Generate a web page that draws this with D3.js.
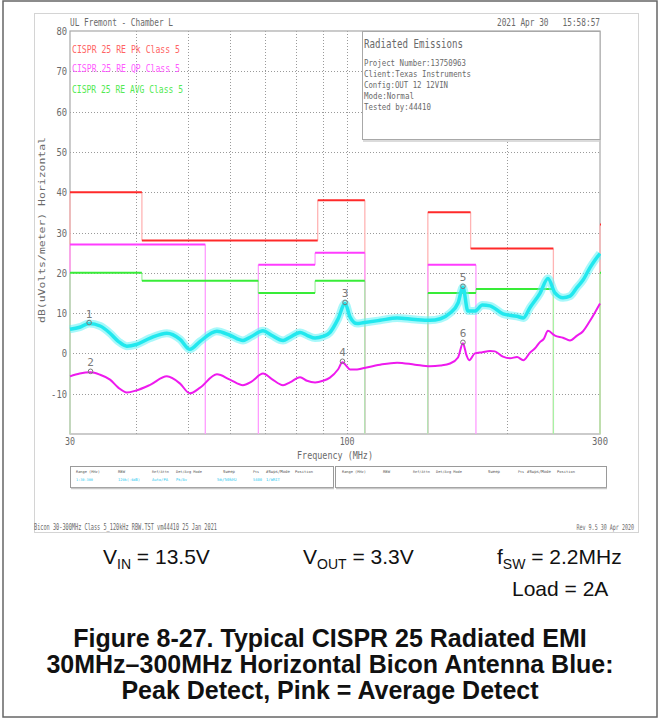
<!DOCTYPE html>
<html>
<head>
<meta charset="utf-8">
<script src="https://cdn.jsdelivr.net/npm/d3@7"></script>
<style>
  html, body { margin: 0; padding: 0; background: #fff; }
  svg { display: block; }
</style>
</head>
<body>
<svg id="chart" width="660" height="719"></svg>
<script>
// ---- axis ticks and grid ----
const yTickValues = [80, 70, 60, 50, 40, 30, 20, 10, 0, -10];
const yGridValues = [70, 60, 50, 40, 30, 20, 10, 0, -10];
const xGridFreqs = [40, 50, 60, 70, 80, 90, 100, 200];
const xTickLabels = [30, 100, 300];

// ---- peak detector trace (cyan): frequency in MHz, level in dBuV/m ----
const peakFreq = [30, 31.3, 32.6, 34.2, 35.7, 37, 38.4, 40, 42.5, 45.7, 48.4, 50.5, 52.8, 56.8,
  60.1, 63.6, 66, 69.4, 72, 75.7, 78, 81.5, 84, 87, 90, 92.8, 96.1, 99.1, 101.3, 104.4, 107.1,
  115.4, 124.2, 134.3, 143.3, 150, 156.4, 161.9, 165.4, 169, 174.2, 180, 186, 196.8, 209.2,
  215, 221.4, 231.1, 239.3, 246.7, 255.4, 263.3, 271.5, 278.7, 287.3, 293, 300];
const peakLevel = [6.0, 6.5, 7.4, 6.8, 5.0, 3.0, 1.8, 2.2, 3.8, 5.0, 3.5, 1.0, 3.0, 5.5,
  4.5, 3.2, 4.2, 5.6, 4.5, 3.2, 4.0, 5.2, 4.5, 3.8, 4.2, 5.2, 8.5, 12.4, 9.0, 7.4, 7.6,
  8.2, 8.8, 8.4, 8.2, 8.6, 10.0, 12.5, 16.4, 10.5, 10.5, 12.0, 11.8, 9.8, 9.2,
  8.8, 11.4, 14.9, 18.6, 15.0, 13.8, 14.2, 16.4, 18.2, 21.3, 23.0, 24.8];

// ---- average detector trace (magenta) ----
const avgFreq = [30, 31.3, 32.8, 34.2, 35.7, 37, 38.4, 40, 42.5, 45.7, 48.4, 50.5, 52.8, 56.8,
  60.1, 63.6, 66, 69.4, 72, 75.7, 78, 81.5, 84, 87, 90, 92.8, 96.1, 98, 99.5, 101.3, 104.4,
  107.1, 115.4, 124.2, 134.3, 143.3, 150, 156.4, 161.9, 165.4, 168, 170, 174.2, 180, 186,
  190, 196.8, 203, 209.2, 215, 221.4, 226, 231.1, 235, 239.3, 246.7, 255.4, 263.3, 271.5,
  278.7, 287.3, 300];
const avgLevel = [-5.7, -5.0, -4.7, -5.3, -6.5, -8.5, -9.7, -9.2, -7.8, -5.7, -7.5, -9.9, -8.5, -5.2,
  -6.5, -7.9, -7.0, -5.0, -6.3, -7.9, -7.2, -5.9, -6.8, -7.2, -6.8, -6.0, -4.0, -2.2, -3.0, -4.0, -4.0,
  -3.7, -2.8, -2.3, -2.8, -3.2, -3.0, -2.5, -1.0, 2.5, -0.5, -1.7, 0.0, 0.3, 0.6,
  0.5, -0.8, -1.2, -0.9, -1.7, 0.2, 1.2, 2.8, 3.6, 5.6, 4.4, 3.9, 3.2, 4.4,
  5.5, 8.1, 12.4];

// ---- CISPR 25 class 5 limit bands: [start MHz, stop MHz, dBuV/m] ----
const peakLimit = [[30, 41, 40], [41, 88, 28], [88, 108, 38], [142, 171, 35], [171, 245, 26], [300, 330, 32]];
const qpLimit = [[30, 54, 27], [68, 87, 22], [87, 108, 25], [142, 175, 22]];
const avgLimit = [[30, 41, 20], [41, 68, 18], [68, 87, 15], [87, 108, 18], [142, 175, 15], [175, 245, 16], [300, 330, 20]];

// ---- markers: [label, MHz, dBuV/m] ----
const peakMarkers = [["1", 32.6, 7.4], ["3", 99.1, 12.4], ["5", 165.4, 16.4]];
const avgMarkers = [["2", 32.8, -4.7], ["4", 98, -2.2], ["6", 165.4, 2.5]];

// ---- settings table ----
const tableHeaders = ["Range (MHz)", "RBW", "Ref/Attn", "Det/Avg Mode", "Sweep", "Pts", "#Swps/Mode", "Position"];
const tableValues = ["1:30-300", "120k(-6dB)", "Auto/PA", "Pk/Av", "5m/50kHz", "5400", "1/WRIT", ""];

const infoLines = ["Project Number:13750963", "Client:Texas Instruments", "Config:OUT 12 12VIN", "Mode:Normal", "Tested by:44410"];
const legendItems = ["CISPR 25 RE Pk Class 5", "CISPR 25 RE QP Class 5", "CISPR 25 RE AVG Class 5"];

// ------------------------------------------------------------
const svg = d3.select("#chart");
const MONO = "'DejaVu Sans Mono', monospace";
const SANS = "'Liberation Sans', Arial, sans-serif";

const x = d3.scaleLog().domain([30, 300]).range([70, 600]);
const y = d3.scaleLinear().domain([-20, 80]).range([434, 31]);

function txt(parent, s, px, py, o = {}) {
  const t = parent.append("text")
    .attr("x", px).attr("y", py)
    .attr("font-family", o.family || MONO)
    .attr("font-size", o.size || 11)
    .attr("fill", o.fill || "#6a6a6a")
    .attr("text-anchor", o.anchor || "start")
    .style("white-space", "pre")
    .text(s);
  if (o.width) t.attr("textLength", o.width).attr("lengthAdjust", "spacingAndGlyphs");
  if (o.weight) t.attr("font-weight", o.weight);
  return t;
}
// tiny table text: font size chosen so the monospace run fills the given width
function tiny(parent, s, px, py, w, fill) {
  const size = Math.min(6, w / (s.length * 0.602));
  return parent.append("text").attr("x", px).attr("y", py)
    .attr("font-family", MONO).attr("font-size", size).attr("fill", fill).text(s);
}

// outer figure frame
svg.append("rect").attr("x", 3).attr("y", 1).attr("width", 654).attr("height", 716)
  .attr("fill", "none").attr("stroke", "#666").attr("stroke-width", 1.5);
// analyzer screen frame
svg.append("rect").attr("x", 34.5).attr("y", 13.5).attr("width", 604).attr("height", 519)
  .attr("fill", "none").attr("stroke", "#d4d4d4").attr("stroke-width", 1);

// header texts
txt(svg, "UL Fremont - Chamber L", 70, 26, { width: 103 });
txt(svg, "2021 Apr 30   15:58:57", 600, 26, { width: 103, anchor: "end" });

// grid
const grid = svg.append("g").attr("stroke", "#9a9a9a").attr("stroke-width", 1).attr("stroke-dasharray", "1,2");
grid.selectAll("line.h").data(yGridValues).join("line").attr("class", "h")
  .attr("x1", x(30)).attr("x2", x(300))
  .attr("y1", d => Math.round(y(d)) + 0.5).attr("y2", d => Math.round(y(d)) + 0.5);
grid.selectAll("line.v").data(xGridFreqs).join("line").attr("class", "v")
  .attr("x1", d => Math.round(x(d)) + 0.5).attr("x2", d => Math.round(x(d)) + 0.5)
  .attr("y1", y(80)).attr("y2", y(-20));

// plot border
svg.append("rect").attr("x", x(30)).attr("y", y(80)).attr("width", x(300) - x(30)).attr("height", y(-20) - y(80))
  .attr("fill", "none").attr("stroke", "#a8a8a8").attr("stroke-width", 1.2);

// info box
svg.append("rect").attr("x", 362.5).attr("y", y(80) + 0.5).attr("width", 237.5).attr("height", 108)
  .attr("fill", "#fff").attr("stroke", "#a8a8a8").attr("stroke-width", 1);
svg.append("line").attr("x1", 363).attr("x2", 600).attr("y1", 141).attr("y2", 141)
  .attr("stroke", "#cfcfcf").attr("stroke-width", 1.5);
txt(svg, "Radiated Emissions", 364, 48, { size: 12, width: 99 });
const infoW = [102, 107, 84, 50, 67];
infoLines.forEach((s, i) => txt(svg, s, 364, 66 + i * 11, { size: 9.5, width: infoW[i] }));

// legend
const legendCol = ["#ff6464", "#ff5cff", "#52ea52"];
const legendY = [53, 72, 93];
const legendW = [108, 108, 111];
legendItems.forEach((s, i) => txt(svg, s, 72, legendY[i], { fill: legendCol[i], width: legendW[i] }));

// y tick labels
yTickValues.forEach(v => txt(svg, String(v), 67, y(v) + 4, { anchor: "end", width: String(v).length * 5.3, size: 11 }));
// y title
txt(svg, "dB(uVolts/meter) Horizontal", 0, 0, { size: 9, width: 186, anchor: "middle" })
  .attr("transform", "translate(45,230) rotate(-90)");
// x tick labels
const xLabW = { 30: 10, 100: 15, 300: 16 };
xTickLabels.forEach(f => txt(svg, String(f), x(f), 445, { anchor: "middle", width: xLabW[f], size: 11 }));
txt(svg, "Frequency (MHz)", 335, 459, { anchor: "middle", width: 76, size: 11 });

// limit lines
svg.append("clipPath").attr("id", "plotclip").append("rect")
  .attr("x", x(30) - 1).attr("y", y(80)).attr("width", x(300) - x(30) + 2).attr("height", y(-20) - y(80));
const limits = svg.append("g").attr("clip-path", "url(#plotclip)");

function drawLimit(bands, strong, light) {
  const verts = [];
  bands.forEach((b, i) => {
    const prev = bands[i - 1], next = bands[i + 1];
    if (!prev || prev[1] !== b[0]) verts.push([b[0], -20, b[2]]);
    if (next && next[0] === b[1]) verts.push([b[1], b[2], next[2]]);
    else verts.push([b[1], b[2], -20]);
  });
  limits.append("g").selectAll("line").data(verts).join("line")
    .attr("x1", d => x(d[0])).attr("x2", d => x(d[0]))
    .attr("y1", d => y(d[1])).attr("y2", d => y(d[2]))
    .attr("stroke", light).attr("stroke-width", 1.3);
  limits.append("g").selectAll("line").data(bands).join("line")
    .attr("x1", d => x(d[0])).attr("x2", d => x(d[1]))
    .attr("y1", d => y(d[2])).attr("y2", d => y(d[2]))
    .attr("stroke", strong).attr("stroke-width", 2);
}
drawLimit(peakLimit, "#ff2a2a", "#ffb4b4");
drawLimit(qpLimit, "#ff3cff", "#ff9cff");
drawLimit(avgLimit, "#38ec38", "#a6f2a6");

// traces
const traces = svg.append("g").attr("clip-path", "url(#plotclip)");
const peakPts = peakFreq.map((f, i) => [f, peakLevel[i]]);
const avgPts = avgFreq.map((f, i) => [f, avgLevel[i]]);
const line = d3.line().x(d => x(d[0])).y(d => y(d[1])).curve(d3.curveMonotoneX);

// peak trace: a soft wide band stands for the detector noise spread
traces.append("path").attr("d", line(peakPts)).attr("fill", "none")
  .attr("stroke", "#5ff2f5").attr("stroke-width", 8).attr("stroke-linejoin", "round").attr("opacity", 0.55);
traces.append("path").attr("d", line(peakPts)).attr("fill", "none")
  .attr("stroke", "#22e8ee").attr("stroke-width", 3.5).attr("stroke-linejoin", "round");
traces.append("path").attr("d", line(avgPts)).attr("fill", "none")
  .attr("stroke", "#ee1aee").attr("stroke-width", 2);

// markers
const mk = svg.append("g");
[...peakMarkers, ...avgMarkers].forEach(([lab, f, v]) => {
  mk.append("circle").attr("cx", x(f)).attr("cy", y(v) - 1).attr("r", 2.3)
    .attr("fill", "none").attr("stroke", "#7a7a7a").attr("stroke-width", 1);
  txt(mk, lab, x(f), y(v) - 6, { anchor: "middle", size: 11, fill: "#7a7a7a" });
});

// settings tables
function table(x0, x1) {
  const g = svg.append("g");
  g.append("rect").attr("x", x0 + 0.5).attr("y", 466.5).attr("width", x1 - x0).attr("height", 21)
    .attr("fill", "none").attr("stroke", "#9a9a9a").attr("stroke-width", 1);
  g.append("line").attr("x1", x0 + 1).attr("x2", x1 + 1).attr("y1", 488.5).attr("y2", 488.5)
    .attr("stroke", "#c8c8c8").attr("stroke-width", 1.5);
  return g;
}
const leftCols = [76, 118, 152, 176, 223, 253, 266, 295];
const rightCols = [342, 383, 413, 436, 488, 518, 527, 557];
const hdrW = [24, 7, 17, 26, 12, 6, 24, 18];
const valW = [17, 22, 16, 11, 20, 9, 14, 0];
const tl = table(70, 333);
tableHeaders.forEach((h, i) => tiny(tl, h, leftCols[i], 473, hdrW[i], "#555"));
tableValues.forEach((v, i) => { if (v) tiny(tl, v, leftCols[i] - (i === 4 ? 6 : 0), 481, valW[i], "#1ec8f0"); });
const tr = table(335, 606);
tableHeaders.forEach((h, i) => tiny(tr, h, rightCols[i], 473, hdrW[i], "#555"));

// footer
txt(svg, "Bicon 30-300MHz Class 5_120kHz RBW.TST vm44410 25 Jan 2021", 34, 530, { size: 8, width: 183 });
txt(svg, "Rev 9.5 30 Apr 2020", 0, 0, { size: 8, anchor: "end" })
  .attr("transform", "translate(634,530) scale(0.63,1)");

// operating conditions
function cond(px, py, main, sub, rest) {
  const t = svg.append("text").attr("x", px).attr("y", py)
    .attr("font-family", SANS).attr("font-size", 21).attr("fill", "#111");
  t.append("tspan").text(main);
  t.append("tspan").attr("font-size", 14).attr("dy", 5).text(sub);
  t.append("tspan").attr("dy", -5).text(rest);
}
cond(103, 564, "V", "IN", " = 13.5V");
cond(303, 564, "V", "OUT", " = 3.3V");
cond(497, 564, "f", "SW", " = 2.2MHz");
svg.append("text").attr("x", 512).attr("y", 596).attr("font-family", SANS).attr("font-size", 21)
  .attr("fill", "#111").text("Load = 2A");

// caption
const caption = ["Figure 8-27. Typical CISPR 25 Radiated EMI",
  "30MHz\u2013300MHz Horizontal Bicon Antenna Blue:",
  "Peak Detect, Pink = Average Detect"];
caption.forEach((s, i) => svg.append("text").attr("x", 330).attr("y", 647 + i * 26)
  .attr("text-anchor", "middle").attr("font-family", SANS).attr("font-weight", "bold")
  .attr("font-size", 25).attr("fill", "#111").text(s));
</script>
</body>
</html>
